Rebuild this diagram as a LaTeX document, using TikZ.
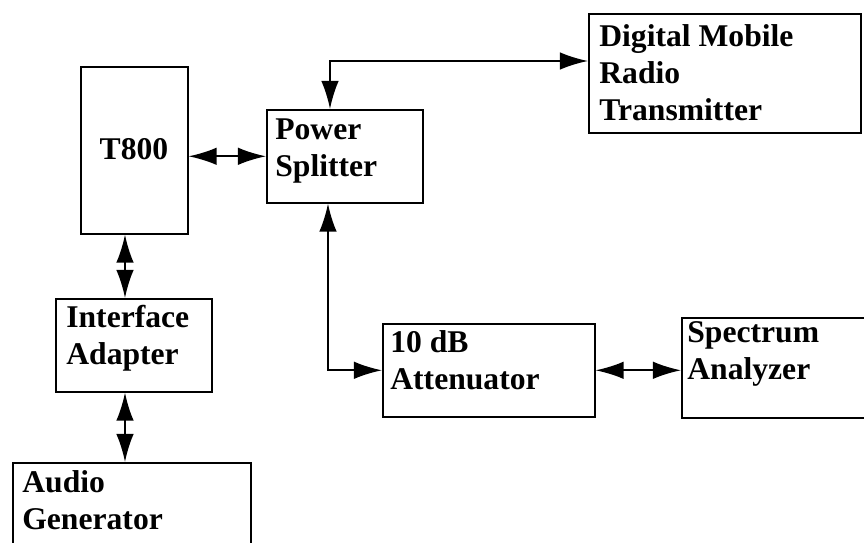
\documentclass[tikz,border=0pt]{standalone}
\usepackage{fontspec}
\setmainfont{Liberation Serif}
\usetikzlibrary{arrows.meta}
\tikzset{
  unit/.style={draw, line width=0.9pt, inner sep=0pt, anchor=north west},
  boxlabel/.style={font=\bfseries\fontsize{18}{21}\selectfont, align=left,
    anchor=base west, inner sep=0pt},
  link/.style={line width=1.1pt,
    {Latex[length=16pt,width=10pt]}-{Latex[length=16pt,width=10pt]}},
}
\begin{document}
\begin{tikzpicture}[x=0.02cm,y=-0.02cm]
  \clip (0,0) rectangle (864,542);
  % boxes
  \node[unit, minimum width=2.14cm, minimum height=3.34cm] (t800) at (80,66) {};
  \node[unit, minimum width=3.12cm, minimum height=1.86cm] (ps) at (266,109) {};
  \node[unit, minimum width=5.44cm, minimum height=2.38cm] (dmrt) at (588,13) {};
  \node[unit, minimum width=3.12cm, minimum height=1.86cm] (ia) at (55,298) {};
  \node[unit, minimum width=4.24cm, minimum height=1.86cm] (att) at (382,323) {};
  \node[unit, minimum width=4.20cm, minimum height=2.00cm] (sa) at (681,317) {};
  \node[unit, minimum width=4.76cm, minimum height=2.00cm] (ag) at (12,462) {};
  % labels (anchored at the baseline of the last line)
  \node[boxlabel, anchor=center] (t800txt) at (134,149) {T800};
  \node[boxlabel] (pstxt) at (275,176) {Power\\Splitter};
  \node[boxlabel] (dmrttxt) at (599,120) {Digital Mobile\\Radio\\Transmitter};
  \node[boxlabel] (iatxt) at (66,364) {Interface\\Adapter};
  \node[boxlabel] (atttxt) at (390,389) {10 dB\\Attenuator};
  \node[boxlabel] (satxt) at (687,379) {Spectrum\\Analyzer};
  \node[boxlabel] (agtxt) at (22,529) {Audio\\Generator};
  % connectors
  \draw[link] (ps.west -| t800.east) -- (ps.west);
  \draw[link] ([xshift=1.28cm]ps.north west) |- ([yshift=-0.96cm]dmrt.north west);
  \draw[link] ([xshift=1.24cm]ps.south west) |- (att.west);
  \draw[link] (att.east) -- (att.east -| sa.west);
  \draw[link] ([xshift=0.9cm]t800.south west) coordinate (tdown)
    -- (tdown |- ia.north);
  \draw[link] ([xshift=1.4cm]ia.south west) coordinate (idown)
    -- (idown |- ag.north);
\end{tikzpicture}
\end{document}
